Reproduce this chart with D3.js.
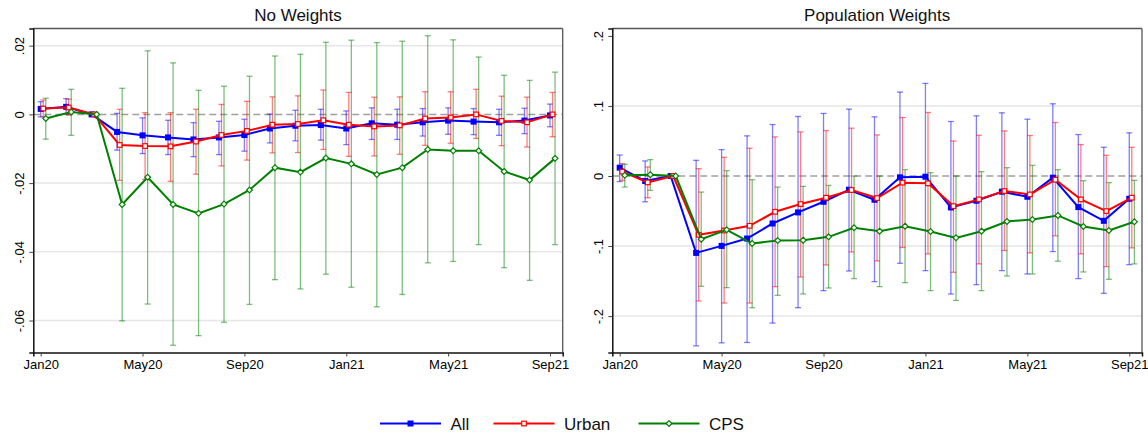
<!DOCTYPE html>
<html>
<head>
<meta charset="utf-8">
<script src="https://cdn.jsdelivr.net/npm/d3@7"></script>
<style>
  html, body { margin: 0; padding: 0; background: #fff; }
  svg { display: block; font-family: "Liberation Sans", Arial, sans-serif; }
</style>
</head>
<body>
<svg id="chart" width="1148" height="434"></svg>
<script>
// ---------- DATA ----------
const months = ["Jan20","Feb20","Mar20","Apr20","May20","Jun20","Jul20","Aug20","Sep20","Oct20","Nov20","Dec20",
                "Jan21","Feb21","Mar21","Apr21","May21","Jun21","Jul21","Aug21","Sep21"];
const xTickLabels = ["Jan20","May20","Sep20","Jan21","May21","Sep21"];
const seriesNames = ["All","Urban","CPS"];

// Panel 1: No Weights
const nwAll   = [0.0016,0.0022,0,-0.0051,-0.0061,-0.0067,-0.0073,-0.0067,-0.0060,-0.0041,-0.0033,-0.0031,-0.0041,-0.0026,-0.0030,-0.0023,-0.0018,-0.0021,-0.0023,-0.0018,-0.0003];
const nwAllHi = [0.0037,0.0046,null,0.0003,-0.0010,-0.0017,-0.0024,-0.0020,-0.0014,0.0001,0.0012,0.0015,0.0010,0.0019,0.0015,0.0017,0.0019,0.0017,0.0015,0.0018,0.0030];
const nwAllLo = [-0.0007,0.0000,null,-0.0104,-0.0114,-0.0117,-0.0123,-0.0117,-0.0107,-0.0083,-0.0077,-0.0075,-0.0088,-0.0073,-0.0073,-0.0063,-0.0058,-0.0059,-0.0061,-0.0056,-0.0036];

const nwUrb   = [0.0017,0.0020,0,-0.0089,-0.0092,-0.0093,-0.0079,-0.0060,-0.0048,-0.0030,-0.0028,-0.0017,-0.0030,-0.0035,-0.0032,-0.0012,-0.0009,0.0000,-0.0019,-0.0023,0.0000];
const nwUrbHi = [0.0042,0.0044,null,0.0015,0.0005,0.0005,0.0015,0.0029,0.0038,0.0051,0.0054,0.0071,0.0064,0.0050,0.0051,0.0066,0.0066,0.0073,0.0053,0.0050,0.0064];
const nwUrbLo = [-0.0007,-0.0002,null,-0.0192,-0.0189,-0.0195,-0.0174,-0.0150,-0.0133,-0.0112,-0.0111,-0.0102,-0.0122,-0.0121,-0.0116,-0.0090,-0.0084,-0.0070,-0.0091,-0.0095,-0.0065];

const nwCps   = [-0.0012,0.0007,0,-0.0262,-0.0183,-0.0262,-0.0288,-0.0261,-0.0220,-0.0155,-0.0168,-0.0127,-0.0144,-0.0175,-0.0155,-0.0102,-0.0106,-0.0106,-0.0166,-0.0191,-0.0128];
const nwCpsHi = [0.0047,0.0073,null,0.0076,0.0185,0.0150,0.0070,0.0082,0.0111,0.0170,0.0175,0.0210,0.0216,0.0209,0.0213,0.0229,0.0217,0.0167,0.0114,0.0099,0.0123];
const nwCpsLo = [-0.0072,-0.0061,null,-0.0601,-0.0552,-0.0672,-0.0644,-0.0605,-0.0553,-0.0481,-0.0508,-0.0465,-0.0503,-0.0560,-0.0524,-0.0432,-0.0428,-0.0379,-0.0446,-0.0483,-0.0379];

// Panel 2: Population Weights
const pwAll   = [0.0119,-0.0072,0,-0.1098,-0.0998,-0.0893,-0.0678,-0.0520,-0.0368,-0.0196,-0.0339,-0.0019,-0.0010,-0.0449,-0.0353,-0.0224,-0.0296,-0.0024,-0.0444,-0.0640,-0.0325];
const pwAllHi = [0.0300,0.0215,null,0.0224,0.0377,0.0573,0.0735,0.0850,0.0893,0.0955,0.0845,0.1198,0.1322,0.0778,0.0859,0.0902,0.0811,0.1031,0.0592,0.0410,0.0616];
const pwAllLo = [-0.0080,-0.0368,null,-0.2425,-0.2382,-0.2377,-0.2100,-0.1880,-0.1637,-0.1356,-0.1508,-0.1246,-0.1351,-0.1685,-0.1551,-0.1351,-0.1399,-0.1079,-0.1465,-0.1675,-0.1265];

const pwUrb   = [0.0062,-0.0091,0,-0.0840,-0.0778,-0.0711,-0.0511,-0.0401,-0.0310,-0.0200,-0.0315,-0.0095,-0.0105,-0.0430,-0.0334,-0.0215,-0.0263,-0.0053,-0.0334,-0.0501,-0.0310];
const pwUrbHi = [0.0177,0.0129,null,0.0105,0.0267,0.0396,0.0558,0.0630,0.0649,0.0683,0.0587,0.0835,0.0907,0.0501,0.0582,0.0644,0.0578,0.0764,0.0449,0.0296,0.0410];
const pwUrbLo = [-0.0062,-0.0310,null,-0.1785,-0.1814,-0.1814,-0.1580,-0.1442,-0.1270,-0.1084,-0.1212,-0.1021,-0.1112,-0.1375,-0.1255,-0.1064,-0.1098,-0.0854,-0.1112,-0.1294,-0.1026];

const pwCps   = [0.0010,0.0019,0,-0.0902,-0.0768,-0.0964,-0.0921,-0.0916,-0.0869,-0.0740,-0.0788,-0.0716,-0.0792,-0.0883,-0.0788,-0.0649,-0.0621,-0.0563,-0.0721,-0.0778,-0.0654];
const pwCpsHi = [0.0167,0.0234,null,-0.0229,0.0076,-0.0053,-0.0158,-0.0148,-0.0134,0.0000,0.0000,0.0091,0.0048,0.0000,0.0062,0.0119,0.0153,0.0091,-0.0067,-0.0095,-0.0062];
const pwCpsLo = [-0.0158,-0.0205,null,-0.1575,-0.1594,-0.1881,-0.1704,-0.1685,-0.1599,-0.1465,-0.1580,-0.1523,-0.1637,-0.1776,-0.1637,-0.1427,-0.1399,-0.1217,-0.1370,-0.1475,-0.1255];

const nwTicks = [0.02, 0, -0.02, -0.04, -0.06];
const nwTickLabels = [".02","0","-.02","-.04","-.06"];
const pwTicks = [0.2, 0.1, 0, -0.1, -0.2];
const pwTickLabels = [".2",".1","0","-.1","-.2"];

// ---------- STYLE ----------
const colors = { All: "#0000ff", Urban: "#ff0000", CPS: "#008000" };
const offsets = { All: 0, Urban: 0.1, CPS: 0.2 }; // month shift for dodge

const svg = d3.select("#chart");

const panels = [
  { title: "No Weights", left: 33.3, right: 562.7, top: 28.5, bottom: 352.5,
    yDomain: [-0.0693, 0.0250], ticks: nwTicks, tickLabels: nwTickLabels, grid: [0.02,-0.02,-0.04,-0.06],
    series: [
      { name: "All", v: nwAll, hi: nwAllHi, lo: nwAllLo },
      { name: "Urban", v: nwUrb, hi: nwUrbHi, lo: nwUrbLo },
      { name: "CPS", v: nwCps, hi: nwCpsHi, lo: nwCpsLo } ] },
  { title: "Population Weights", left: 612.3, right: 1142, top: 28.5, bottom: 352.5,
    yDomain: [-0.252, 0.2106], ticks: pwTicks, tickLabels: pwTickLabels, grid: [0.1,-0.1,-0.2],
    series: [
      { name: "All", v: pwAll, hi: pwAllHi, lo: pwAllLo },
      { name: "Urban", v: pwUrb, hi: pwUrbHi, lo: pwUrbLo },
      { name: "CPS", v: pwCps, hi: pwCpsHi, lo: pwCpsLo } ] }
];

function drawMarker(g, name, x, y) {
  const c = colors[name];
  if (name === "All") {
    g.append("rect").attr("x", x - 3).attr("y", y - 3).attr("width", 6).attr("height", 6).attr("fill", c);
  } else if (name === "Urban") {
    g.append("rect").attr("x", x - 2.3).attr("y", y - 2.3).attr("width", 4.6).attr("height", 4.6)
      .attr("fill", "#fff").attr("stroke", c).attr("stroke-width", 1.2);
  } else {
    const r = 2.9;
    g.append("path").attr("d", `M${x},${y-r}L${x+r},${y}L${x},${y+r}L${x-r},${y}Z`)
      .attr("fill", "#fff").attr("stroke", c).attr("stroke-width", 1.2);
  }
}

panels.forEach(p => {
  const x = d3.scaleLinear().domain([-0.29, 20.5]).range([p.left, p.right]);
  const y = d3.scaleLinear().domain(p.yDomain).range([p.bottom, p.top]);
  const g = svg.append("g");

  // title
  g.append("text").attr("x", (p.left + p.right) / 2).attr("y", 21).attr("text-anchor", "middle")
    .attr("font-size", 17).attr("fill", "#111").text(p.title);

  // grid
  g.selectAll(".grid").data(p.grid).enter().append("line")
    .attr("x1", p.left).attr("x2", p.right).attr("y1", d => y(d)).attr("y2", d => y(d))
    .attr("stroke", "#e6e6e6").attr("stroke-width", 1.5);

  // zero dashed line
  g.append("line").attr("x1", p.left).attr("x2", p.right).attr("y1", y(0)).attr("y2", y(0))
    .attr("stroke", "#a0a0a0").attr("stroke-width", 1.5).attr("stroke-dasharray", "7,4");

  // error bars
  p.series.forEach(s => {
    const c = colors[s.name];
    const eg = g.append("g").attr("stroke", c).attr("stroke-opacity", 0.5).attr("stroke-width", 1.3).attr("fill", "none");
    months.forEach((m, i) => {
      if (s.hi[i] == null) return;
      const xi = x(i + offsets[s.name]);
      eg.append("line").attr("x1", xi).attr("x2", xi).attr("y1", y(s.hi[i])).attr("y2", y(s.lo[i]));
      eg.append("line").attr("x1", xi - 3).attr("x2", xi + 3).attr("y1", y(s.hi[i])).attr("y2", y(s.hi[i]));
      eg.append("line").attr("x1", xi - 3).attr("x2", xi + 3).attr("y1", y(s.lo[i])).attr("y2", y(s.lo[i]));
    });
  });

  // lines + markers
  p.series.forEach(s => {
    const c = colors[s.name];
    const line = d3.line().x((d, i) => x(i + offsets[s.name])).y(d => y(d));
    g.append("path").datum(s.v).attr("d", line).attr("fill", "none").attr("stroke", c).attr("stroke-width", 2);
    const mg = g.append("g");
    s.v.forEach((d, i) => drawMarker(mg, s.name, x(i + offsets[s.name]), y(d)));
  });

  // frame: top/right gray, left/bottom dark
  g.append("line").attr("x1", p.left).attr("x2", p.right).attr("y1", p.top).attr("y2", p.top).attr("stroke", "#555").attr("stroke-width", 1.3);
  g.append("line").attr("x1", p.right).attr("x2", p.right).attr("y1", p.top).attr("y2", p.bottom).attr("stroke", "#555").attr("stroke-width", 1.3);

  // x axis
  const xAxis = d3.axisBottom(x).tickValues([0, 4, 8, 12, 16, 20])
    .tickFormat((d, i) => xTickLabels[i]).tickSize(4).tickPadding(3);
  const xa = g.append("g").attr("transform", `translate(0,${p.bottom})`).call(xAxis);
  xa.select(".domain").attr("stroke", "#111").attr("stroke-width", 1.5);
  xa.selectAll(".tick line").attr("stroke", "#444");
  xa.selectAll("text").attr("font-size", 13).attr("fill", "#000").attr("font-family", "Liberation Sans, Arial, sans-serif");

  // y axis
  const yAxis = d3.axisLeft(y).tickValues(p.ticks).tickFormat((d, i) => p.tickLabels[i]).tickSize(4).tickPadding(6);
  const ya = g.append("g").attr("transform", `translate(${p.left},0)`).call(yAxis);
  ya.select(".domain").attr("stroke", "#111").attr("stroke-width", 1.5);
  ya.selectAll(".tick line").attr("stroke", "#444");
  ya.selectAll("text")
    .attr("font-size", 13).attr("fill", "#000").attr("font-family", "Liberation Sans, Arial, sans-serif")
    .attr("text-anchor", "middle").attr("dy", null).attr("x", null)
    .attr("transform", "translate(-9,0) rotate(-90)");
});

// legend
const legend = svg.append("g");
const legendPos = [{ name: "All", x0: 380, label: "All" }, { name: "Urban", x0: 493.5, label: "Urban" }, { name: "CPS", x0: 638.5, label: "CPS" }];
legendPos.forEach(l => {
  const c = colors[l.name];
  legend.append("line").attr("x1", l.x0).attr("x2", l.x0 + 61).attr("y1", 423.5).attr("y2", 423.5)
    .attr("stroke", c).attr("stroke-width", 2);
  drawMarker(legend, l.name, l.x0 + 30.5, 423.5);
  legend.append("text").attr("x", l.x0 + 70.5).attr("y", 429.5).attr("font-size", 17).attr("fill", "#111").text(l.label);
});
</script>
</body>
</html>
